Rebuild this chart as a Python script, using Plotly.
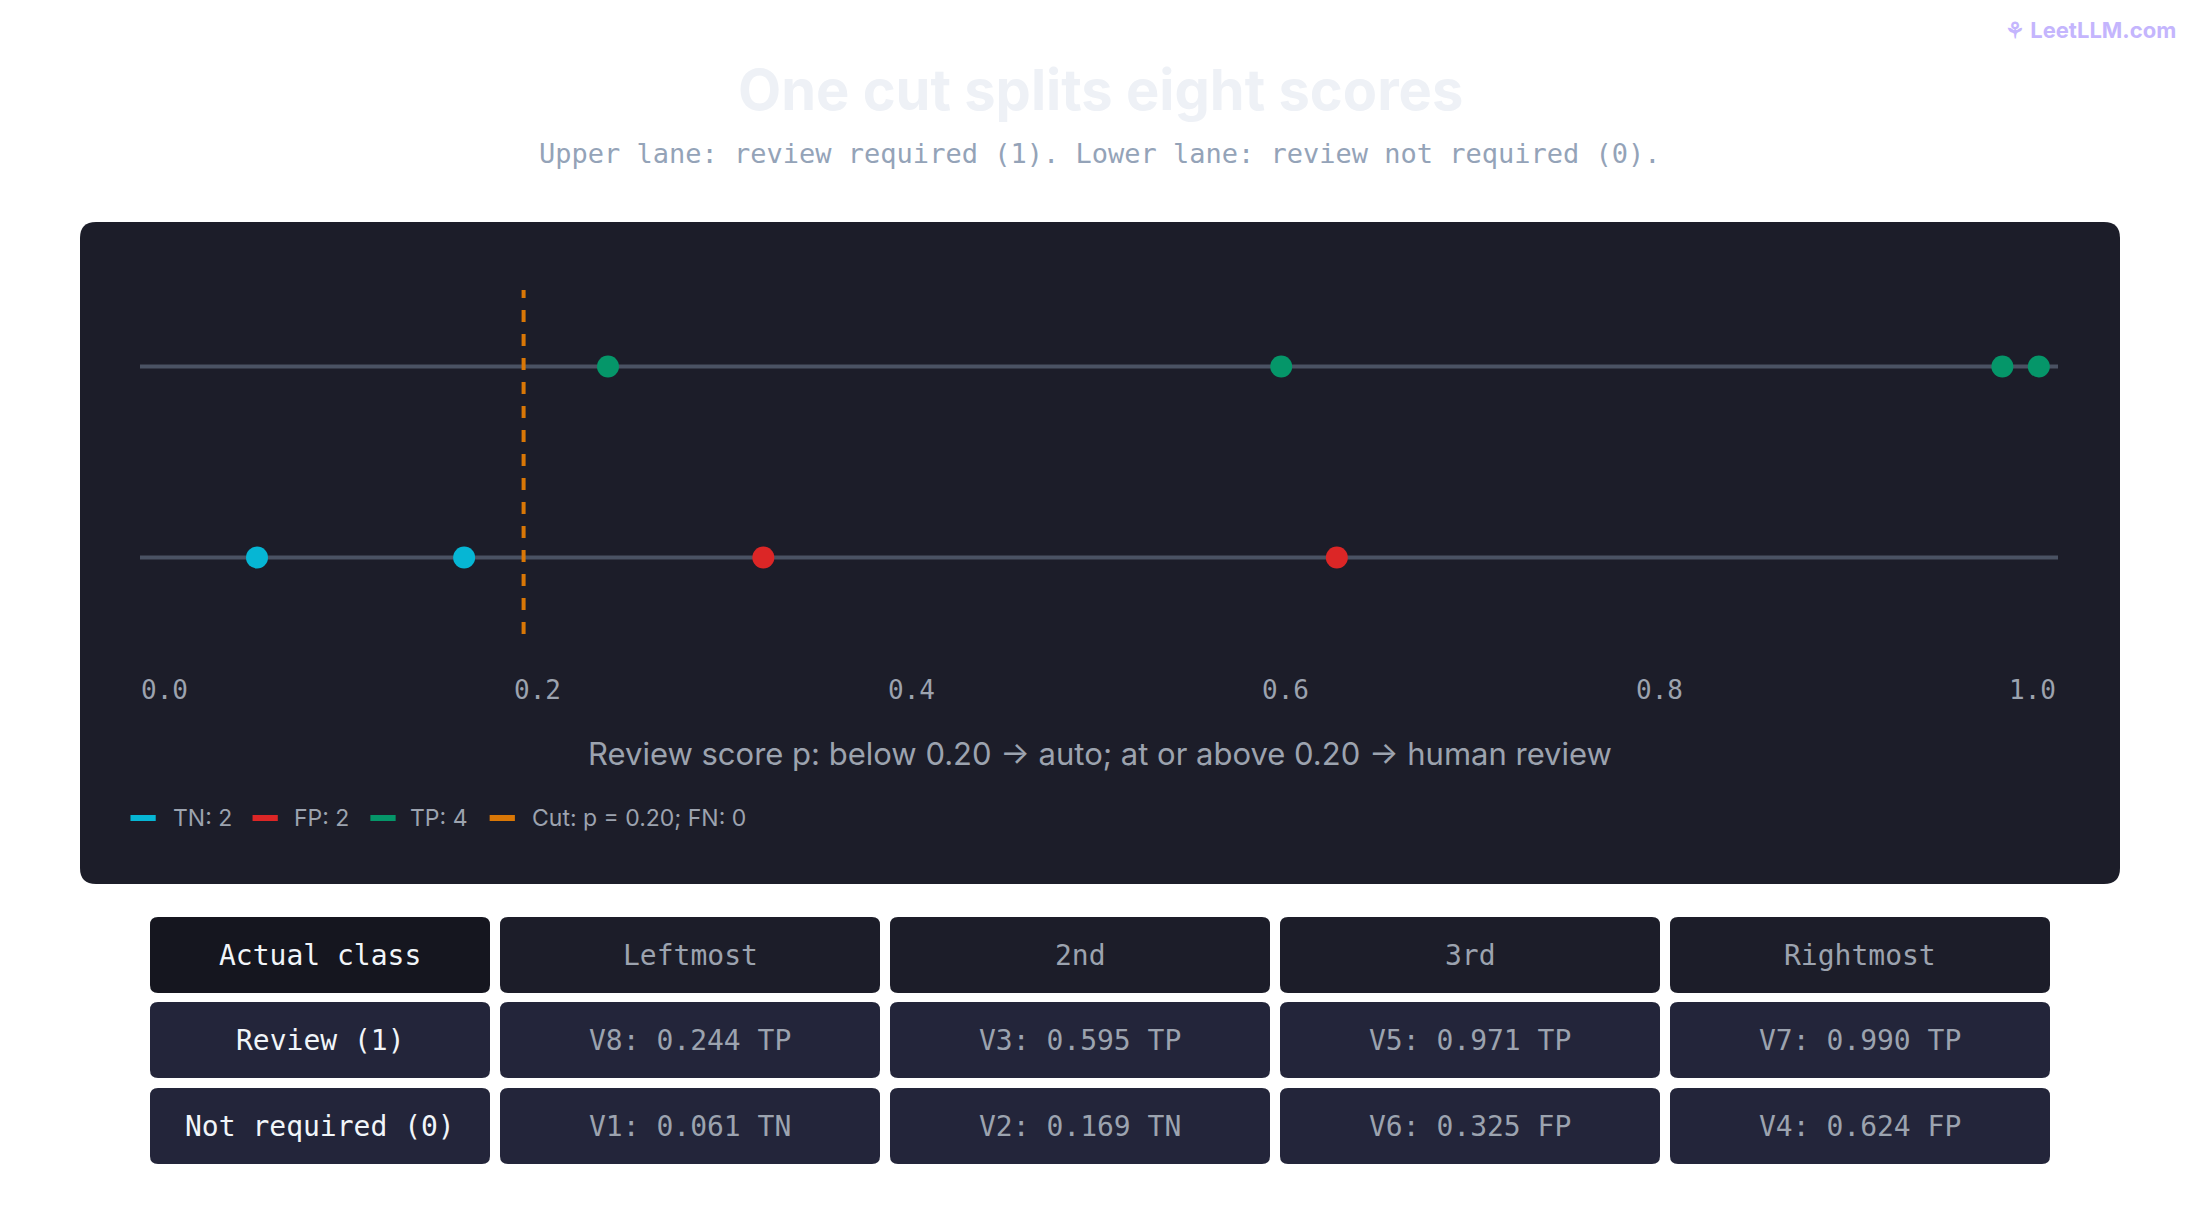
import plotly.graph_objects as go

W, H = 2200, 1220
pos_names = ["V8", "V3", "V5", "V7"]
pos_scores = [0.244, 0.595, 0.971, 0.990]
pos_labels = ["TP", "TP", "TP", "TP"]
neg_names = ["V1", "V2", "V6", "V4"]
neg_scores = [0.061, 0.169, 0.325, 0.624]
neg_labels = ["TN", "TN", "FP", "FP"]
cut = 0.20
ticks = [0.0, 0.2, 0.4, 0.6, 0.8, 1.0]
col_headers = ["Actual class", "Leftmost", "2nd", "3rd", "Rightmost"]
row_headers = ["Review (1)", "Not required (0)"]
counts = {"TN": 2, "FP": 2, "TP": 4, "FN": 0}

COL = {"TN": "#06b6d4", "FP": "#dc2626", "TP": "#059669"}
CUT = "#d97706"
MONO = "DejaVu Sans Mono, monospace"
SANS = "Inter, Noto Sans, sans-serif"
OFF = 8

def px(x): return (x - OFF) / W
def py(y): return 1 - (y - OFF) / H

def rpath(L, T, R, B, r):
    return (f"M {px(L+r)},{py(T)} L {px(R-r)},{py(T)} Q {px(R)},{py(T)} {px(R)},{py(T+r)} "
            f"L {px(R)},{py(B-r)} Q {px(R)},{py(B)} {px(R-r)},{py(B)} L {px(L+r)},{py(B)} "
            f"Q {px(L)},{py(B)} {px(L)},{py(B-r)} L {px(L)},{py(T+r)} Q {px(L)},{py(T)} {px(L+r)},{py(T)} Z")

x0p, x1p = 140, 2058
ytop, ybot = 290, 634
fig = go.Figure()
for yv in [1, 0]:
    fig.add_trace(go.Scatter(x=[0, 1], y=[yv, yv], mode="lines",
                             line=dict(color="#4a5263", width=4), showlegend=False, hoverinfo="skip"))
fig.add_trace(go.Scatter(x=[cut, cut], y=[-0.4, 1.4], mode="lines",
                         line=dict(color=CUT, width=4, dash="dash"), showlegend=False))
fig.add_trace(go.Scatter(x=pos_scores, y=[1]*4, mode="markers",
                         marker=dict(size=22, color=[COL[l] for l in pos_labels]),
                         text=pos_names, showlegend=False, cliponaxis=False))
fig.add_trace(go.Scatter(x=neg_scores, y=[0]*4, mode="markers",
                         marker=dict(size=22, color=[COL[l] for l in neg_labels]),
                         text=neg_names, showlegend=False, cliponaxis=False))

shapes = [dict(type="path", xref="paper", yref="paper", path=rpath(80, 222, 2120, 884, 16),
               fillcolor="#1c1d29", line=dict(width=0), layer="below")]

ann = []
for i, t in enumerate(ticks):
    ann.append(dict(x=px((117 + i*266.4)*1.403), xref="paper", y=py(690), yref="paper",
                    text=f"{t:.1f}", showarrow=False, xanchor="center", yanchor="middle",
                    font=dict(family=MONO, size=26, color="#9ca3af")))
ann.append(dict(x=px(1100), xref="paper", y=py(753), yref="paper",
                text="Review score p: below 0.20 → auto; at or above 0.20 → human review",
                showarrow=False, xanchor="center", yanchor="middle",
                font=dict(family=SANS, size=31, color="#9ca3af")))
ann.append(dict(x=px(1100), y=py(90), xref="paper", yref="paper", text="<b>One cut splits eight scores</b>",
                showarrow=False, xanchor="center", yanchor="middle",
                font=dict(family=SANS, size=56, color="#eef1f6")))
ann.append(dict(x=px(1100), y=py(154), xref="paper", yref="paper",
                text="Upper lane: review required (1). Lower lane: review not required (0).",
                showarrow=False, xanchor="center", yanchor="middle",
                font=dict(family=MONO, size=27, color="#94a3b8")))
ann.append(dict(x=px(2178), y=py(30), xref="paper", yref="paper", text="<b>⚘ LeetLLM.com</b>",
                xanchor="right", yanchor="middle", showarrow=False,
                font=dict(family=SANS, size=22, color="#c4b5fd")))

# legend
leg = [(f"TN: {counts['TN']}", COL["TN"], 93, 122), (f"FP: {counts['FP']}", COL["FP"], 180, 208),
       (f"TP: {counts['TP']}", COL["TP"], 264, 291),
       (f"Cut: p = {cut:.2f}; FN: {counts['FN']}", CUT, 349, 378)]
ly = 818
for name, c, lx, tx in leg:
    shapes.append(dict(type="line", xref="paper", yref="paper", x0=px(lx*1.403), x1=px((lx+18)*1.403),
                       y0=py(ly), y1=py(ly), line=dict(color=c, width=6)))
    ann.append(dict(x=px(tx*1.403), y=py(ly), xref="paper", yref="paper", text=name, showarrow=False,
                    xanchor="left", yanchor="middle", font=dict(family=SANS, size=23, color="#9ca3af")))

cols = [(150, 490), (500, 880), (890, 1270), (1280, 1660), (1670, 2050)]
rows = [(917, 993), (1002, 1078), (1088, 1164)]
cells = [col_headers,
         [row_headers[0]] + [f"{n}: {s:.3f} {l}" for n, s, l in zip(pos_names, pos_scores, pos_labels)],
         [row_headers[1]] + [f"{n}: {s:.3f} {l}" for n, s, l in zip(neg_names, neg_scores, neg_labels)]]
for ri, (ya, yb) in enumerate(rows):
    for ci, (xa, xb) in enumerate(cols):
        fill = "#15161f" if ri == 0 else "#23253a"
        if ri == 0 and ci > 0:
            fill = "#1c1d29"
        shapes.append(dict(type="path", xref="paper", yref="paper", path=rpath(xa, ya, xb, yb, 8),
                           fillcolor=fill, line=dict(width=0)))
        colr = "#f1f5f9" if ci == 0 else "#9ca3af"
        ann.append(dict(x=px((xa+xb)/2), y=py((ya+yb)/2), xref="paper", yref="paper",
                        text=cells[ri][ci], showarrow=False, xanchor="center", yanchor="middle",
                        font=dict(family=MONO, size=28, color=colr)))

fig.update_layout(
    width=W, height=H, margin=dict(l=0, r=0, t=0, b=0), showlegend=False,
    paper_bgcolor="white", plot_bgcolor="rgba(0,0,0,0)",
    xaxis=dict(domain=[px(x0p), px(x1p)], range=[0, 1], visible=False, fixedrange=True),
    yaxis=dict(domain=[py(ybot), py(ytop)], range=[-0.4, 1.4], visible=False),
    shapes=shapes, annotations=ann,
)
fig.write_html("out.html")
